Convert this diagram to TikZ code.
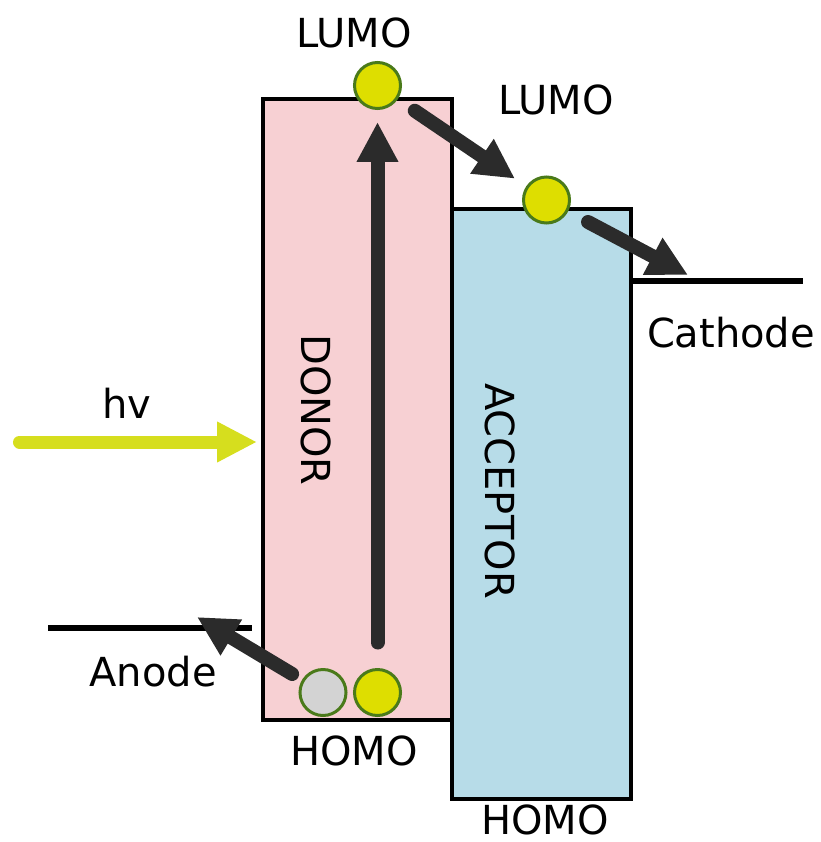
\documentclass[tikz,border=0pt]{standalone}
\usepackage{fontspec}
\setmainfont{DejaVu Sans}
\usetikzlibrary{arrows.meta}
\definecolor{donorpink}{RGB}{247,208,211}
\definecolor{accblue}{RGB}{183,220,232}
\definecolor{elyellow}{RGB}{222,222,0}
\definecolor{elgreen}{RGB}{74,122,26}
\definecolor{holegray}{RGB}{211,211,211}
\definecolor{arrdark}{RGB}{43,43,43}
\definecolor{hvyellow}{RGB}{214,222,30}
\begin{document}
\begin{tikzpicture}[x=1pt,y=-1pt,
  lvlbox/.style={draw=black, line width=3.5pt, inner sep=0pt, outer sep=0pt},
  electron/.style={circle, draw=elgreen, line width=3pt, fill=elyellow, minimum size=46pt, inner sep=0pt, outer sep=0pt},
  hole/.style={electron, fill=holegray},
  flowarrow/.style={draw=arrdark, line width=14pt, line cap=round, -{Triangle[length=40pt,width=39pt]}},
  hvarrow/.style={draw=hvyellow, line width=13pt, line cap=round, -{Triangle[length=40pt,width=38pt]}},
  electrode/.style={draw=black, line width=5.5pt},
  lbl/.style={font=\fontsize{40}{48}\selectfont, inner sep=0pt, anchor=base},
  vlbl/.style={font=\fontsize{40}{48}\selectfont, inner sep=0pt, rotate=-90}
]
\useasboundingbox (0,0) rectangle (820,842);

% level boxes
\node[lvlbox, fill=donorpink, minimum width=189pt, minimum height=621pt] (donor) at (357.5,409.5) {};
\node[lvlbox, fill=accblue, minimum width=179pt, minimum height=590pt] (acceptor) at (541.5,504) {};

% box labels
\node[vlbl] (donorlbl) at (316,410) {DONOR};
\node[vlbl] (acclbl) at (500,491) {ACCEPTOR};

% electrodes
\coordinate (anodeL) at (48,628);
\coordinate (anodeR) at (252,628);
\coordinate (cathL) at (632,281);
\coordinate (cathR) at (803,281);
\draw[electrode] (anodeL) -- (anodeR);
\draw[electrode] (cathL) -- (cathR);

% electrons / hole
\node[electron] (lumoD) at (377.5,85.5) {};
\node[electron] (lumoA) at (546.5,200) {};
\node[hole] (homoG) at (323,692.5) {};
\node[electron] (homoY) at (377.5,692.5) {};

% arrows
\coordinate (hvstart) at (19.5,442);
\coordinate (cathtip) at (688,275);
\coordinate (anodetip) at (197,617);
\draw[hvarrow, shorten >=6pt] (hvstart) -- (donor.west |- hvstart);
\draw[flowarrow, shorten <=27pt, shorten >=13.5pt] (homoY) -- (lumoD);
\draw[flowarrow, shorten <=22pt, shorten >=15pt] (lumoD) -- (lumoA);
\draw[flowarrow, shorten <=24pt] (lumoA) -- (cathtip);
\draw[flowarrow, shorten <=13pt] (homoG) -- (anodetip);

% labels
\node[lbl] (lumoDlbl) at (354,48) {LUMO};
\node[lbl] (lumoAlbl) at (556,115) {LUMO};
\node[lbl] (homoDlbl) at (354,765) {HOMO};
\node[lbl] (homoAlbl) at (545,834) {HOMO};
\node[lbl] (anodelbl) at (153,686) {Anode};
\node[lbl] (cathlbl) at (731,347) {Cathode};
\node[lbl] (hvlbl) at (127,418) {hv};
\end{tikzpicture}
\end{document}
